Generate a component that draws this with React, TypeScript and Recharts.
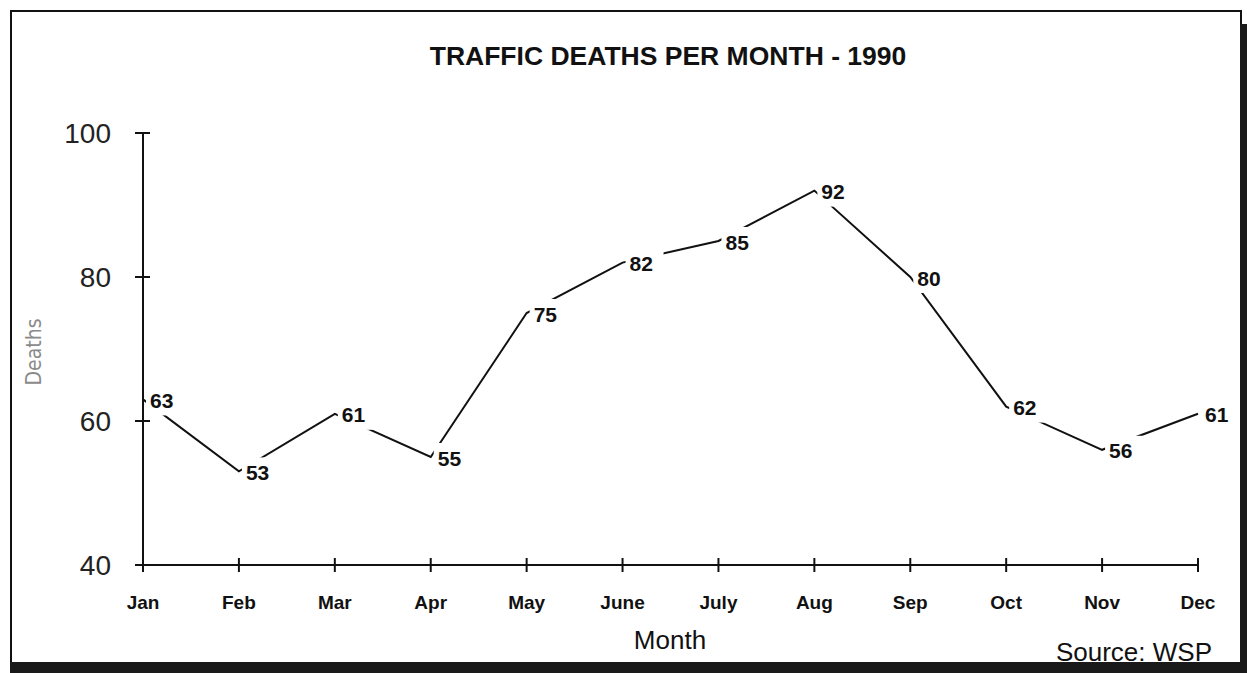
import { LineChart, Line, XAxis, YAxis, LabelList } from "recharts";

const months = ["Jan", "Feb", "Mar", "Apr", "May", "June", "July", "Aug", "Sep", "Oct", "Nov", "Dec"];
const deaths = [63, 53, 61, 55, 75, 82, 85, 92, 80, 62, 56, 61];
const yTicks = [40, 60, 80, 100];

const data = months.map((m, i) => ({ month: m, deaths: deaths[i] }));

const FONT = "'Liberation Sans', Arial, Helvetica, sans-serif";
const INK = "#111";

function YTick({ x, y, payload }: any) {
  return (
    <g>
      <line x1={x - 8} x2={x + 7} y1={y} y2={y} stroke={INK} strokeWidth={2} />
      <text x={x - 32} y={y} dy={10} textAnchor="end" fontSize={28} fontFamily={FONT} fill="#222">
        {payload.value}
      </text>
    </g>
  );
}

function XTick({ x, y, payload }: any) {
  return (
    <g>
      <line x1={x} x2={x} y1={y - 7} y2={y + 7} stroke={INK} strokeWidth={2} />
      <text x={x} y={y + 44} textAnchor="middle" fontSize={19} fontWeight={700} fontFamily={FONT} fill={INK}>
        {payload.value}
      </text>
    </g>
  );
}

// value label with a white box behind it, so the line breaks around it
function PointLabel({ x, y, value }: any) {
  const cy = y + 1;
  return (
    <g>
      <rect x={x + 3} y={cy - 15} width={38} height={30} fill="#fff" />
      <text x={x + 7} y={cy + 7.5} fontSize={21} fontWeight={700} fontFamily={FONT} fill={INK}>
        {value}
      </text>
    </g>
  );
}

export default function App() {
  return (
    <div style={{ position: "absolute", left: 0, top: 0, width: 1247, height: 673, background: "#fff" }}>
      <LineChart width={1247} height={673} data={data} margin={{ top: 133, right: 49, left: 83, bottom: 68 }}>
        <XAxis
          dataKey="month"
          scale="point"
          padding={{ left: 0, right: 0 }}
          height={40}
          tickSize={0}
          tickMargin={0}
          tickLine={false}
          axisLine={{ stroke: INK, strokeWidth: 2 }}
          tick={<XTick />}
          interval={0}
        />
        <YAxis
          domain={[40, 100]}
          ticks={yTicks}
          width={60}
          tickSize={0}
          tickMargin={0}
          tickLine={false}
          axisLine={{ stroke: INK, strokeWidth: 2 }}
          tick={<YTick />}
        />
        <Line
          type="linear"
          dataKey="deaths"
          stroke={INK}
          strokeWidth={2}
          dot={false}
          activeDot={false}
          isAnimationActive={false}
        >
          <LabelList dataKey="deaths" content={<PointLabel />} />
        </Line>
      </LineChart>

      <svg
        width={1247}
        height={673}
        style={{ position: "absolute", left: 0, top: 0, pointerEvents: "none" }}
      >
        {/* scanned frame */}
        <line x1={11} x2={11} y1={11} y2={664} stroke={INK} strokeWidth={2} />
        <line x1={10} x2={1242} y1={11} y2={11} stroke={INK} strokeWidth={2} />
        <line x1={1241} x2={1241} y1={10} y2={26} stroke={INK} strokeWidth={2} />
        <rect x={1240} y={24} width={7} height={649} fill="#1a1a1a" />
        <rect x={10} y={662} width={1237} height={11} fill="#1a1a1a" />

        <text x={668} y={65} textAnchor="middle" fontSize={26.5} fontWeight={700} fontFamily={FONT} fill={INK}>
          TRAFFIC DEATHS PER MONTH - 1990
        </text>
        <text
          transform="translate(34,352) rotate(-90)"
          textAnchor="middle"
          dy={7}
          fontSize={21}
          fontFamily="'DejaVu Sans Condensed', 'Liberation Sans Narrow', sans-serif"
          fill="#8a8a8a"
        >
          Deaths
        </text>
        <text x={670} y={649} textAnchor="middle" fontSize={26} fontFamily={FONT} fill={INK}>
          Month
        </text>
        <text x={1212} y={661} textAnchor="end" fontSize={26} fontFamily={FONT} fill={INK}>
          Source: WSP
        </text>
      </svg>
    </div>
  );
}
